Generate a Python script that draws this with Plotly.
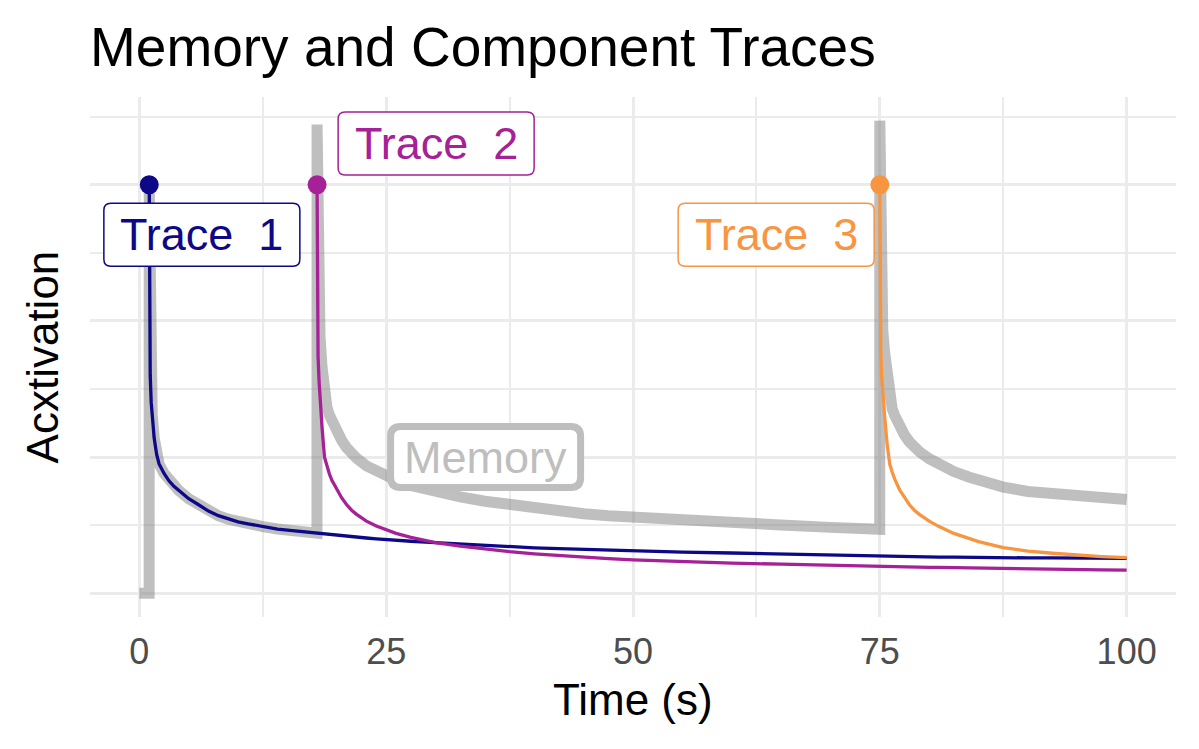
import plotly.graph_objects as go

# ---- data ----
time_s = [0, 0.99, 1, 1.02, 1.05, 1.1, 1.2, 1.3, 1.5, 1.75,
          2, 2.5, 3, 3.5, 4, 5, 6, 7, 8, 9,
          10, 11, 12.5, 14, 15, 16.5, 17.99, 18, 18.02, 18.05,
          18.1, 18.2, 18.3, 18.5, 18.75, 19, 19.25, 19.5, 20, 20.5,
          21, 21.5, 22, 23, 24, 25, 26, 27.5, 29, 30,
          32.5, 35, 37.5, 40, 42.5, 45, 47.5, 50, 55, 60,
          65, 70, 74.99, 75, 75.02, 75.05, 75.1, 75.2, 75.3, 75.5,
          75.75, 76, 76.25, 76.5, 77, 77.5, 78, 78.5, 79, 80,
          81, 82.5, 84, 85, 87.5, 90, 92.5, 95, 97.5, 100]

onsets = [1, 18, 75]
trace_names = ["Trace  1", "Trace  2", "Trace  3"]
trace_colors = ["#0d0887", "#a62098", "#f89540"]

# trace values from each onset to t = 100 (on the time_s grid)
trace1_vals = [1.50, 1.15, 0.95, 0.80, 0.70, 0.655, 0.57, 0.51, 0.475, 0.44,
               0.413, 0.393, 0.377, 0.347, 0.325, 0.302, 0.285, 0.272, 0.262, 0.255,
               0.245, 0.236, 0.232, 0.226, 0.221, 0.221, 0.221, 0.221, 0.221, 0.221,
               0.221, 0.220, 0.219, 0.217, 0.216, 0.215, 0.213, 0.211, 0.209, 0.207,
               0.206, 0.203, 0.200, 0.197, 0.195, 0.191, 0.188, 0.186, 0.181, 0.176,
               0.171, 0.167, 0.164, 0.161, 0.158, 0.156, 0.151, 0.148, 0.144, 0.140,
               0.137, 0.137, 0.137, 0.137, 0.137, 0.137, 0.137, 0.137, 0.136, 0.136,
               0.136, 0.136, 0.135, 0.135, 0.135, 0.134, 0.134, 0.134, 0.133, 0.133,
               0.132, 0.132, 0.131, 0.130, 0.130, 0.129, 0.128, 0.128]
trace2_vals = [1.50, 1.15, 0.98, 0.87, 0.78, 0.72, 0.61, 0.50, 0.465, 0.438,
               0.415, 0.38, 0.35, 0.325, 0.305, 0.29, 0.265, 0.247, 0.232, 0.220,
               0.205, 0.193, 0.186, 0.173, 0.162, 0.153, 0.145, 0.138, 0.131, 0.127,
               0.123, 0.116, 0.111, 0.107, 0.102, 0.098, 0.098, 0.098, 0.098, 0.098,
               0.098, 0.098, 0.098, 0.098, 0.097, 0.097, 0.097, 0.097, 0.096, 0.096,
               0.096, 0.096, 0.095, 0.095, 0.094, 0.093, 0.092, 0.091, 0.089, 0.088,
               0.087, 0.086, 0.085]
trace3_vals = [1.50, 1.15, 0.99, 0.88, 0.79, 0.73, 0.645, 0.545, 0.475, 0.445,
               0.42, 0.38, 0.35, 0.325, 0.305, 0.29, 0.265, 0.245, 0.22, 0.202,
               0.19, 0.168, 0.155, 0.147, 0.140, 0.135, 0.131]

label_x = [6.33, 30.06, 64.5]
label_y = [1.316, 1.651, 1.316]
memory_label = "Memory"
memory_label_x = 35.07
memory_label_y = 0.50

x_ticks = [0, 25, 50, 75, 100]

# ---- build full-length series ----
series = []
for onset, vals in zip(onsets, [trace1_vals, trace2_vals, trace3_vals]):
    k = time_s.index(onset)
    assert k + len(vals) == len(time_s), (onset, k, len(vals), len(time_s))
    series.append([None] * k + vals)

memory = [sum(s[i] for s in series if s[i] is not None) for i in range(len(time_s))]

fig = go.Figure()
fig.add_trace(go.Scatter(x=time_s, y=memory, mode="lines",
                         line=dict(color="rgba(127,127,127,0.5)", width=11),
                         showlegend=False, hoverinfo="skip"))
for s, c in zip(series, trace_colors):
    fig.add_trace(go.Scatter(x=time_s, y=s, mode="lines", line=dict(color=c, width=3.3),
                             showlegend=False, connectgaps=False))
peak_y = [s[time_s.index(o)] for s, o in zip(series, onsets)]
fig.add_trace(go.Scatter(x=onsets, y=peak_y, mode="markers",
                         marker=dict(color=trace_colors, size=19), showlegend=False))


def rounded_box(w, h, r):
    x0, x1, y0, y1 = -w / 2, w / 2, -h / 2, h / 2
    return (f"M {x0 + r},{y0} H {x1 - r} Q {x1},{y0} {x1},{y0 + r} V {y1 - r} "
            f"Q {x1},{y1} {x1 - r},{y1} H {x0 + r} Q {x0},{y1} {x0},{y1 - r} "
            f"V {y0 + r} Q {x0},{y0} {x0 + r},{y0} Z")


font_fam = "Liberation Sans, Arial, Helvetica, sans-serif"
NB = "\u00a0"
for name, lx, ly, c in zip(trace_names, label_x, label_y, trace_colors):
    fig.add_shape(type="path", xref="x", yref="y", xsizemode="pixel", ysizemode="pixel",
                  xanchor=lx, yanchor=ly, path=rounded_box(196, 63, 7),
                  line=dict(color=c, width=1.5), fillcolor="white", layer="above")
    fig.add_annotation(x=lx, y=ly, xref="x", yref="y", showarrow=False,
                       text=name.replace("  ", NB + NB),
                       font=dict(family=font_fam, size=45, color=c))
fig.add_shape(type="path", xref="x", yref="y", xsizemode="pixel", ysizemode="pixel",
              xanchor=memory_label_x, yanchor=memory_label_y, path=rounded_box(190, 61, 10),
              line=dict(color="#bebebe", width=7), fillcolor="white", layer="above")
fig.add_annotation(x=memory_label_x, y=memory_label_y, xref="x", yref="y", showarrow=False,
                   text=memory_label, font=dict(family=font_fam, size=45, color="#bebebe"))

# axis titles
fig.add_annotation(x=0.5, y=(617 - 700) / 520, xref="paper", yref="paper", showarrow=False,
                   text="Time (s)", font=dict(family=font_fam, size=44, color="black"),
                   yanchor="middle")
fig.add_annotation(x=(42 - 89.6) / 1086.8, y=0.5, xref="paper", yref="paper", showarrow=False,
                   text="Acxtivation", textangle=-90,
                   font=dict(family=font_fam, size=44, color="black"), xanchor="center")

fig.update_layout(
    width=1199, height=749,
    margin=dict(l=82, r=31, t=89, b=140),
    paper_bgcolor="white", plot_bgcolor="white",
    title=dict(text="Memory and Component Traces", x=82 / 1199, xref="container",
               xanchor="left", y=1 - 39 / 749, yref="container", yanchor="middle",
               font=dict(family=font_fam, size=55, color="black")),
    xaxis=dict(range=[-5, 105], tickvals=x_ticks, ticktext=[str(v) for v in x_ticks],
               showgrid=True, gridcolor="#ebebeb", gridwidth=3, zeroline=False, showline=False,
               ticks="", ticklabelstandoff=10,
               tickfont=dict(family=font_fam, size=36, color="#4d4d4d"),
               minor=dict(tickvals=[12.5, 37.5, 62.5, 87.5], showgrid=True,
                          gridcolor="#ebebeb", gridwidth=1.8)),
    yaxis=dict(range=[-0.087, 1.822], tickvals=[0, 0.5, 1.0, 1.5], showticklabels=False,
               showgrid=True, gridcolor="#ebebeb", gridwidth=3, zeroline=False, showline=False,
               ticks="",
               minor=dict(tickvals=[0.25, 0.75, 1.25, 1.75], showgrid=True,
                          gridcolor="#ebebeb", gridwidth=1.8)),
)

fig.write_html("out.html")
